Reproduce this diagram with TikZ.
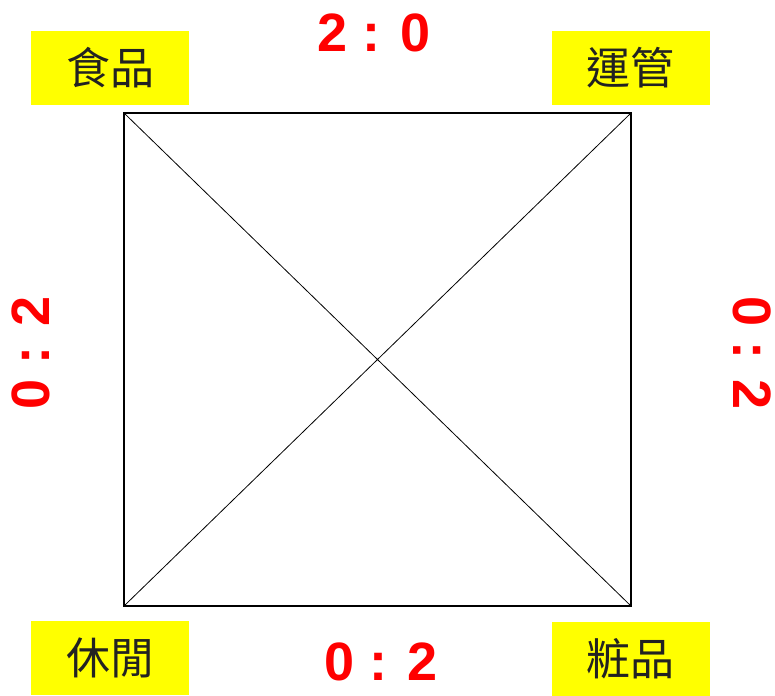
\documentclass[tikz,border=0pt]{standalone}
\usepackage{fontspec}
\setmainfont{Liberation Sans}
\newfontfamily\cjk{Noto Sans CJK TC}
\usepackage{xcolor}
\usetikzlibrary{positioning}
\definecolor{scorered}{RGB}{255,0,0}
\definecolor{tagyellow}{RGB}{255,255,0}
\definecolor{tagtext}{RGB}{34,34,34}
\tikzset{
	tag/.style={
			fill=tagyellow, minimum width=158pt, minimum height=74pt,
			inner sep=0pt, text=tagtext, font=\cjk\fontsize{44}{44}\selectfont
		},
	score/.style={
			text=scorered, inner sep=0pt, text depth=0pt, font=\bfseries\fontsize{54}{54}\selectfont
		}
}

\begin{document}
\begin{tikzpicture}[x=1pt, y=-1pt]
			\useasboundingbox (0, 0) rectangle (775, 695);

			\coordinate (tl) at (124, 113);
			\coordinate (tr) at (631, 113);
			\coordinate (br) at (631, 606);
			\coordinate (bl) at (124, 606);

			\draw[black, line width=2pt]	(tl) rectangle (br);
			\draw[black, line width=0.8pt]	(tl) to (br)
								(tr) to (bl);

			\node[tag] (food) at (110, 68) {食品};
			\node[tag] (ops) at (630.5, 68) {運管};
			\node[tag] (leisure) at (110, 658) {休閒};
			\node[tag] (cosm) at (630.5, 658.5) {粧品};

			\node[score] (top) at (374, 33) {2 : 0};
			\node[score] (bottom) at (381, 662) {0 : 2};
			\node[score, rotate=90] (left) at (31, 353) {0 : 2};
			\node[score, rotate=-90] (right) at (752, 353) {0 : 2};
		\end{tikzpicture}
\end{document}
